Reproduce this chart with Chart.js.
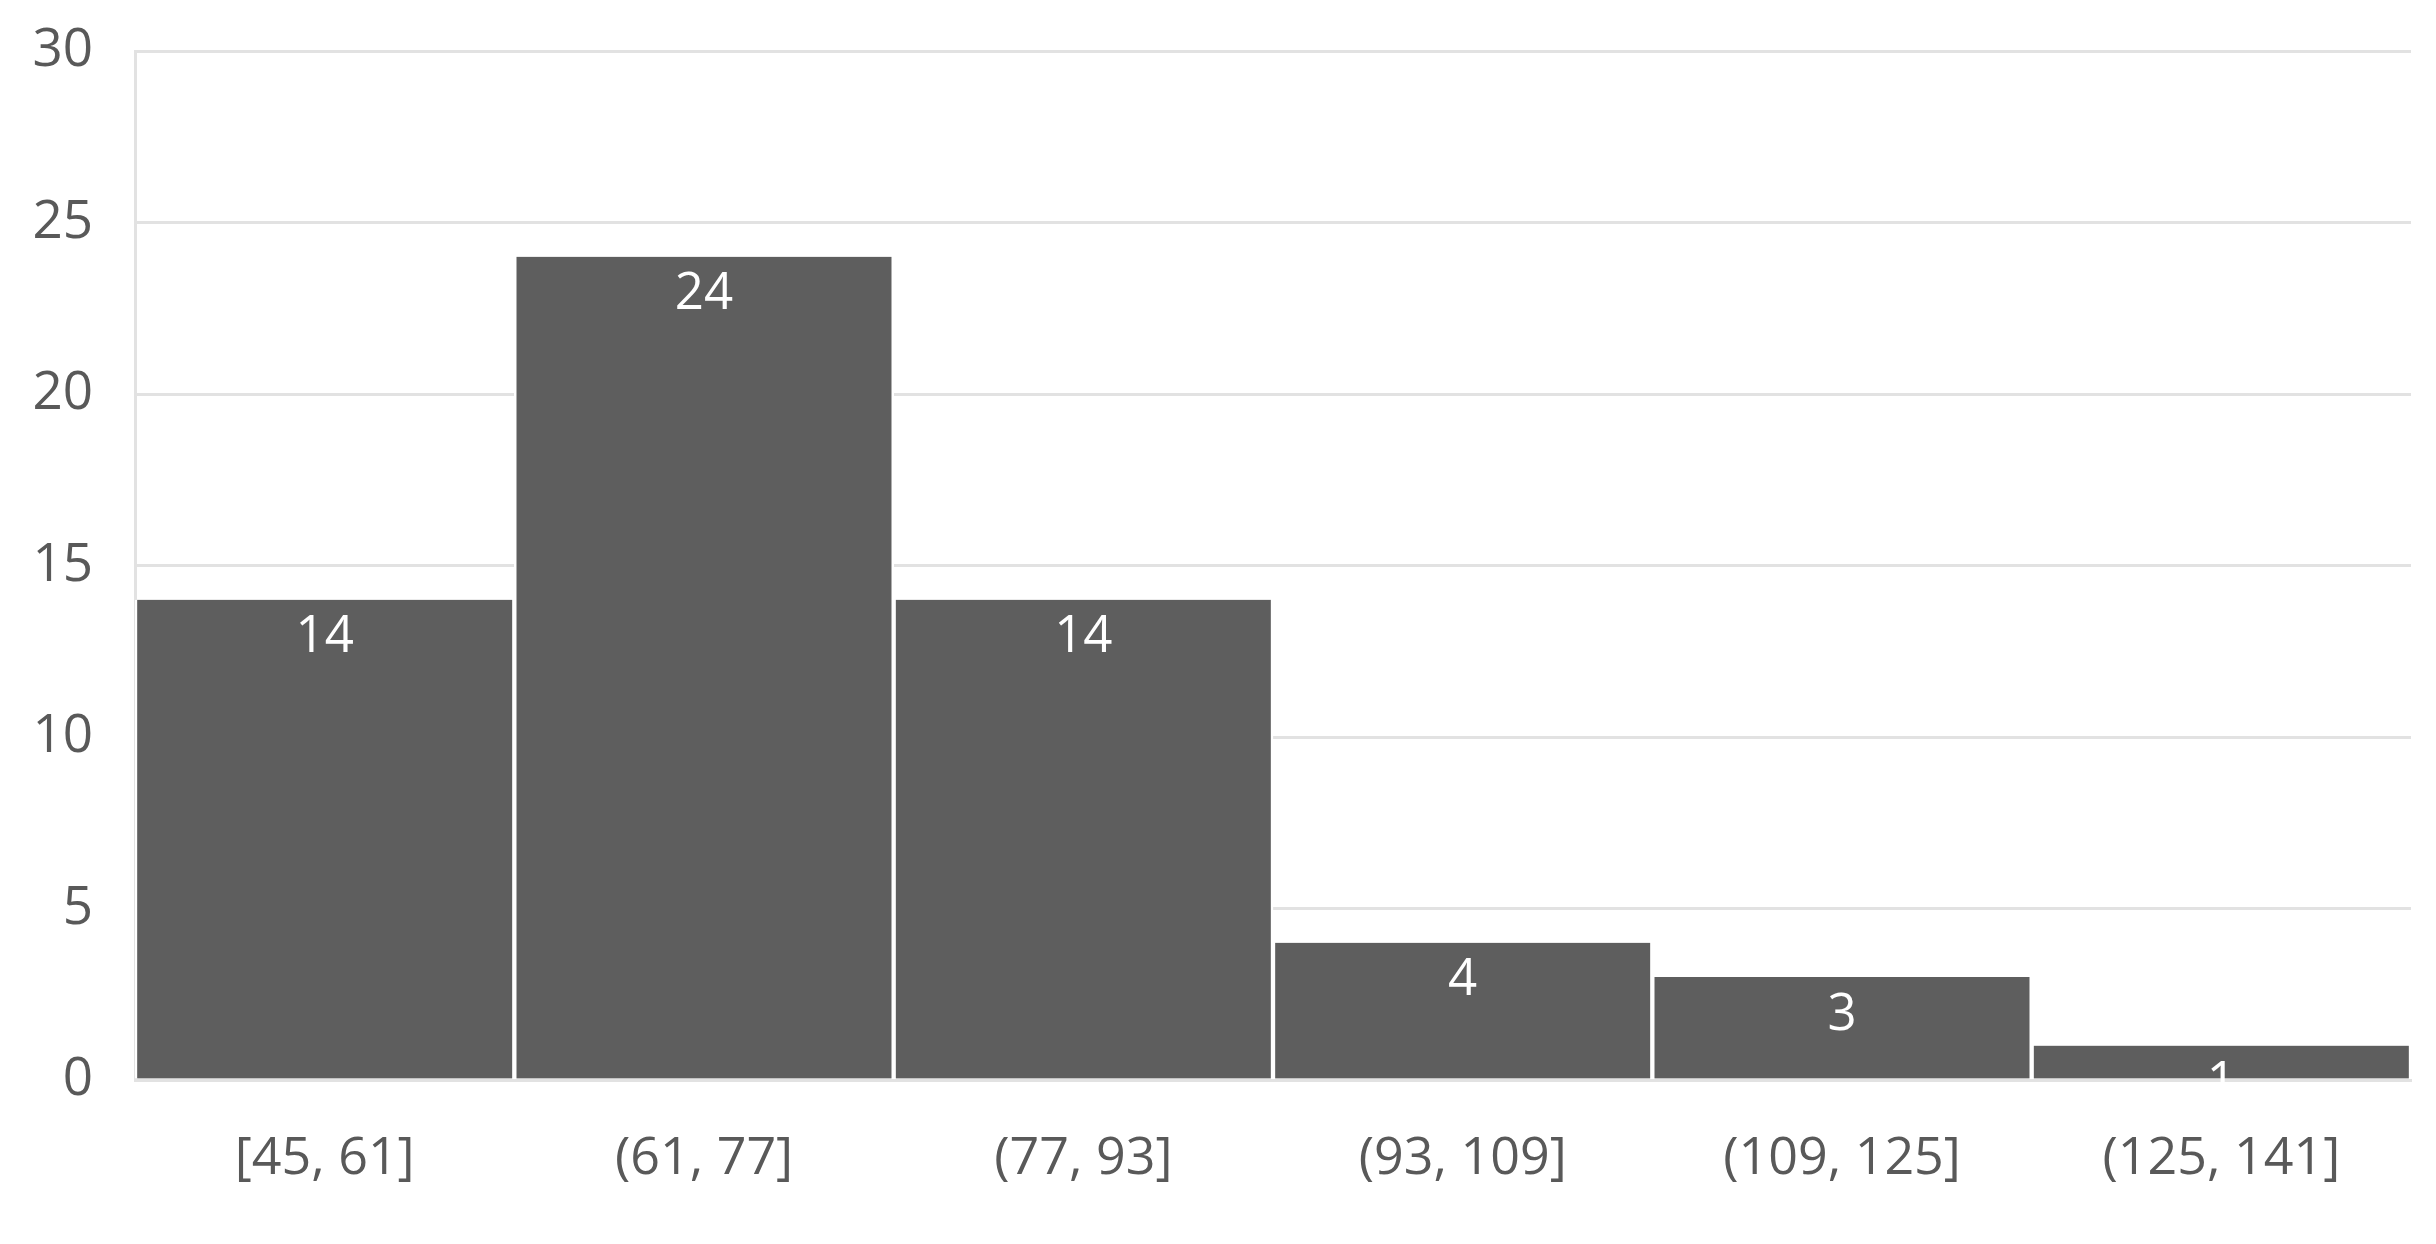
<!DOCTYPE html>
<html>
<head>
<meta charset="utf-8">
<script src="https://cdn.jsdelivr.net/npm/chart.js@4/dist/chart.umd.min.js"></script>
<style>
  html, body { margin: 0; padding: 0; background: #fff; }
  #wrap { width: 2436px; height: 1244px; }
</style>
</head>
<body>
<div id="wrap"><canvas id="histChart" width="2436" height="1244"></canvas></div>
<script>
const bins = ['[45, 61]', '(61, 77]', '(77, 93]', '(93, 109]', '(109, 125]', '(125, 141]'];
const counts = [14, 24, 14, 4, 3, 1];
const yTicks = [0, 5, 10, 15, 20, 25, 30];

const fontFamily = "'Open Sans', 'Noto Sans', sans-serif";

// draws the count inside the top of each bar
const barLabels = {
    id: 'barLabels',
    afterDatasetsDraw(chart) {
        const ctx = chart.ctx;
        const meta = chart.getDatasetMeta(0);
        ctx.save();
        ctx.font = `51px ${fontFamily}`;
        ctx.fillStyle = '#ffffff';
        ctx.textAlign = 'center';
        ctx.textBaseline = 'middle';
        meta.data.forEach((bar, i) => {
            ctx.fillText(String(counts[i]), bar.x, bar.y + 38);
        });
        ctx.restore();
    }
};

new Chart(document.getElementById('histChart'), {
    type: 'bar',
    data: {
        labels: bins,
        datasets: [{
            data: counts,
            backgroundColor: '#5e5e5e',
            borderColor: '#ffffff',
            borderWidth: { left: 2.5, right: 2.5, top: 0, bottom: 0 },
            borderSkipped: false,
            barPercentage: 1,
            categoryPercentage: 1
        }]
    },
    options: {
        responsive: false,
        animation: false,
        layout: { padding: { top: 51, right: 25, left: 0, bottom: 0 } },
        plugins: { legend: { display: false }, tooltip: { enabled: false } },
        scales: {
            x: {
                grid: { display: false, drawTicks: false },
                border: { display: true, color: '#e2e2e2', width: 3 },
                ticks: { color: '#595959', font: { family: fontFamily, size: 52 }, padding: 48 },
                afterFit(scale) {
                    scale.height = 164;
                    scale.paddingLeft = 0;
                    scale.paddingRight = 0;
                }
            },
            y: {
                min: 0,
                max: 30,
                afterBuildTicks(scale) { scale.ticks = yTicks.map(v => ({ value: v })); },
                grid: { color: '#e2e2e2', lineWidth: 3, drawTicks: false },
                border: { display: true, color: '#e2e2e2', width: 3 },
                ticks: { color: '#595959', font: { family: fontFamily, size: 53 }, padding: 42 },
                afterFit(scale) {
                    scale.width = 135;
                    scale.paddingTop = 0;
                    scale.paddingBottom = 0;
                }
            }
        }
    },
    plugins: [barLabels]
});
</script>
</body>
</html>
